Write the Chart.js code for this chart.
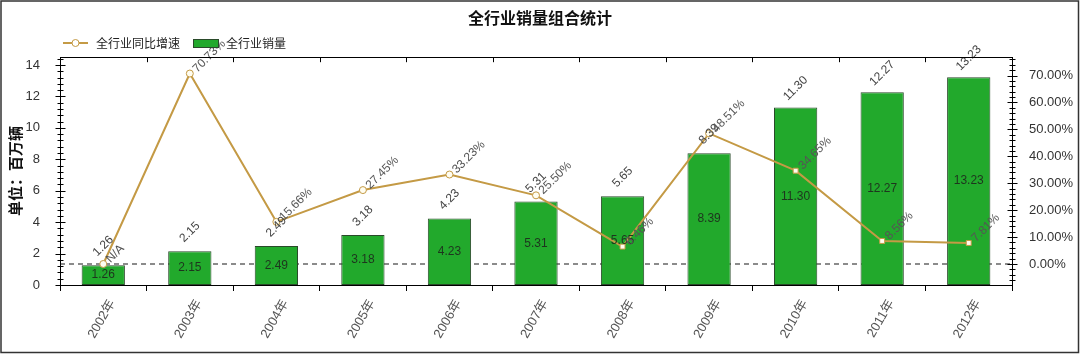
<!DOCTYPE html>
<html>
<head>
<meta charset="utf-8">
<script src="https://cdn.jsdelivr.net/npm/chart.js@4.4.1/dist/chart.umd.min.js"></script>
<style>
html,body{margin:0;padding:0;background:#fff;}
#wrap{width:1080px;height:354px;}
</style>
</head>
<body>
<div id="wrap"><canvas id="c" width="1080" height="354"></canvas></div>
<script>
// ---- data ----
const years = ['2002年','2003年','2004年','2005年','2006年','2007年','2008年','2009年','2010年','2011年','2012年'];
const sales = [1.26, 2.15, 2.49, 3.18, 4.23, 5.31, 5.65, 8.39, 11.30, 12.27, 13.23];
const growth = [0, 70.73, 15.66, 27.45, 33.23, 25.50, 6.46, 48.51, 34.65, 8.56, 7.81];
const growthText = ['N/A','70.73%','15.66%','27.45%','33.23%','25.50%','6.46%','48.51%','34.65%','8.56%','7.81%'];
const leftTicks = [0, 2, 4, 6, 8, 10, 12, 14];
const rightTicks = [0, 10, 20, 30, 40, 50, 60, 70];
const lineLabel = '全行业同比增速';
const barLabel = '全行业销量';
const titleText = '全行业销量组合统计';
const yTitle = '单位：百万辆';

const GREEN = '#22A92C', GREEN_BORDER = '#2A4A2A', GOLD = '#C49A45';
Chart.defaults.font.family = "'Liberation Sans', 'Noto Sans CJK SC', sans-serif";

const decor = {
  id: 'decor',
  beforeDraw(chart) {
    const ctx = chart.ctx;
    ctx.save(); ctx.fillStyle = '#fff'; ctx.fillRect(0, 0, chart.width, chart.height); ctx.restore();
  },
  beforeDatasetsDraw(chart) {
    const {ctx, chartArea: a, scales} = chart;
    const y0 = scales.y1.getPixelForValue(0);
    ctx.save();
    ctx.strokeStyle = '#666'; ctx.lineWidth = 1.5; ctx.setLineDash([5, 4]);
    ctx.beginPath(); ctx.moveTo(a.left, y0); ctx.lineTo(a.right, y0); ctx.stroke();
    ctx.restore();
  },
  afterDatasetsDraw(chart) {
    const {ctx} = chart;
    const lineMeta = chart.getDatasetMeta(0);
    const barMeta = chart.getDatasetMeta(1);
    ctx.save();
    ctx.font = "12px 'Liberation Sans', sans-serif";
    barMeta.data.forEach((el, i) => {
      const txt = sales[i].toFixed(2);
      ctx.fillStyle = '#1E351E'; ctx.textAlign = 'center'; ctx.textBaseline = 'middle';
      ctx.fillText(txt, el.x, (el.y + el.base) / 2);
      ctx.save();
      ctx.translate(el.x, el.y - 19); ctx.rotate(-Math.PI / 4);
      ctx.fillStyle = '#444';
      ctx.fillText(txt, 0, 0);
      ctx.restore();
    });
    lineMeta.data.forEach((pt, i) => {
      ctx.save();
      ctx.translate(pt.x + 5, pt.y - 3); ctx.rotate(-Math.PI / 4);
      ctx.fillStyle = '#555'; ctx.textAlign = 'left'; ctx.textBaseline = 'middle';
      ctx.fillText(growthText[i], 0, 0);
      ctx.restore();
    });
    ctx.restore();
  },
  afterDraw(chart) {
    const {ctx, chartArea: a, scales} = chart;
    ctx.save();
    ctx.strokeStyle = '#000'; ctx.lineWidth = 1;
    ctx.strokeRect(Math.round(a.left) + 0.5, Math.round(a.top) + 0.5, Math.round(a.right - a.left), Math.round(a.bottom - a.top));
    const n = years.length, cw = (a.right - a.left) / n;
    ctx.beginPath();
    for (let i = 1; i < n; i++) {
      const x = Math.round(scales.x.getPixelForValue(i) - cw / 2) + 0.5;
      ctx.moveTo(x, a.top); ctx.lineTo(x, a.top + 5);
    }
    const yl = scales.y, xl = Math.round(a.left) + 0.5;
    for (let v = 0; v <= yl.max + 1e-9; v += 0.4) {
      const y = Math.round(yl.getPixelForValue(v)) + 0.5;
      const major = leftTicks.includes(Math.round(v * 100) / 100);
      const L = major ? 5 : 3;
      ctx.moveTo(xl - L, y); ctx.lineTo(xl + L, y);
    }
    const yr = scales.y1, xr = Math.round(a.right) + 0.5;
    for (let v = -6; v <= yr.max + 1e-9; v += 2) {
      const y = Math.round(yr.getPixelForValue(v)) + 0.5;
      const major = rightTicks.includes(v);
      const L = major ? 5 : 3;
      ctx.moveTo(xr - L, y); ctx.lineTo(xr + L, y);
    }
    ctx.stroke();
    // legend
    const ly = 43;
    ctx.strokeStyle = GOLD; ctx.lineWidth = 2;
    ctx.beginPath(); ctx.moveTo(63, ly); ctx.lineTo(88, ly); ctx.stroke();
    ctx.fillStyle = '#fff'; ctx.lineWidth = 1;
    ctx.beginPath(); ctx.arc(75.5, ly, 3.5, 0, Math.PI * 2); ctx.fill(); ctx.stroke();
    ctx.font = "12px 'Noto Sans CJK SC', sans-serif";
    ctx.fillStyle = '#222'; ctx.textAlign = 'left'; ctx.textBaseline = 'middle';
    ctx.fillText(chart.data.datasets[0].label, 96, ly);
    ctx.fillStyle = GREEN; ctx.fillRect(193, ly - 4, 25, 8);
    ctx.strokeStyle = GREEN_BORDER; ctx.strokeRect(193.5, ly - 3.5, 25, 8);
    ctx.fillStyle = '#222';
    ctx.fillText(chart.data.datasets[1].label, 226, ly);
    ctx.strokeStyle = '#333'; ctx.lineWidth = 1.5;
    ctx.strokeRect(1, 1, chart.width - 2.5, chart.height - 2.5);
    ctx.restore();
  }
};

new Chart(document.getElementById('c'), {
  data: {
    labels: years,
    datasets: [
      {
        type: 'line', label: lineLabel, data: growth, yAxisID: 'y1', order: 0,
        borderColor: GOLD, borderWidth: 2, tension: 0,
        pointRadius: 3.5, pointHoverRadius: 3.5,
        pointStyle: ['circle','circle','circle','circle','circle','circle','rect','circle','rect','rect','rect'],
        pointBackgroundColor: '#FFFDF0', pointBorderColor: GOLD, pointBorderWidth: 1
      },
      {
        type: 'bar', label: barLabel, data: sales, yAxisID: 'y', order: 1,
        backgroundColor: GREEN, borderColor: GREEN_BORDER, borderWidth: 1, borderSkipped: false,
        barPercentage: 0.5, categoryPercentage: 1
      }
    ]
  },
  options: {
    responsive: false,
    devicePixelRatio: 1,
    animation: false,
    layout: { padding: { top: 0, left: 0, right: 0, bottom: 0 } },
    plugins: {
      legend: { display: false },
      tooltip: { enabled: false },
      title: {
        display: true, text: titleText, color: '#111',
        font: { size: 16, weight: 'bold', family: "'Noto Sans CJK SC', sans-serif" },
        padding: { top: 8, bottom: 30 }
      }
    },
    scales: {
      x: {
        offset: true,
        grid: { display: true, drawOnChartArea: false, drawTicks: true, tickLength: 6, color: '#000', offset: true },
        border: { display: true, color: '#000' },
        ticks: { minRotation: 60, maxRotation: 60, color: '#555', font: { size: 13 }, padding: 6, labelOffset: 9, autoSkip: false },
        afterFit(s) { s.height = 69; }
      },
      y: {
        position: 'left', min: 0, max: 14.5,
        grid: { display: false },
        border: { display: true, color: '#000' },
        ticks: { color: '#333', font: { size: 13 }, padding: 12 },
        title: { display: true, text: yTitle, color: '#111', font: { size: 15, weight: 'bold', family: "'Noto Sans CJK SC', sans-serif" }, padding: { top: 6, bottom: 0 } },
        afterBuildTicks(s) { s.ticks = leftTicks.map(v => ({ value: v })); },
        afterFit(s) { s.width = 60; }
      },
      y1: {
        position: 'right', min: -7.8, max: 76.8,
        grid: { display: false },
        border: { display: true, color: '#000' },
        ticks: { color: '#333', font: { size: 13 }, padding: 9, callback: v => Number(v).toFixed(2) + '%' },
        afterBuildTicks(s) { s.ticks = rightTicks.map(v => ({ value: v })); },
        afterFit(s) { s.width = 68; }
      }
    }
  },
  plugins: [decor]
});
</script>
</body>
</html>
